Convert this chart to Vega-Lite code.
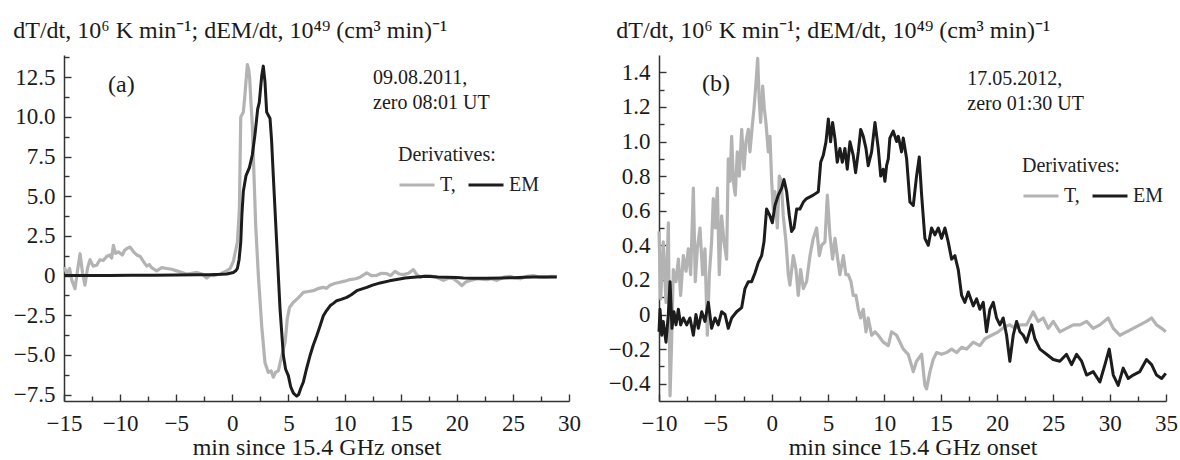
{
  "$schema": "https://vega.github.io/schema/vega-lite/v6.json",
  "padding": {"left": 13, "top": 19, "right": 0, "bottom": 0},
  "background": "white",
  "bounds": "flush",
  "spacing": 90,
  "config": {
    "font": "Times New Roman",
    "view": {"stroke": null},
    "axis": {
      "grid": false,
      "domainColor": "#333333",
      "domainWidth": 1.5,
      "tickColor": "#333333",
      "tickWidth": 1.4,
      "tickSize": 7,
      "labelColor": "#1a1a1a",
      "labelFont": "Times New Roman",
      "labelFontSize": 23,
      "labelFlush": false,
      "labelOverlap": false,
      "labelBound": false,
      "titleFont": "Times New Roman",
      "titleFontSize": 24,
      "titleFontWeight": "normal",
      "titleColor": "#1a1a1a"
    },
    "legend": {
      "orient": "none",
      "direction": "horizontal",
      "padding": 0,
      "titleFont": "Times New Roman",
      "titleFontSize": 20,
      "titleFontWeight": "normal",
      "titleColor": "#222222",
      "titlePadding": 1,
      "labelFont": "Times New Roman",
      "labelFontSize": 20,
      "labelColor": "#222222",
      "symbolType": "stroke",
      "symbolSize": 1225,
      "symbolStrokeWidth": 3,
      "labelOffset": 4,
      "columnPadding": 6
    }
  },
  "datasets": {
    "a": [
      {"t":-14.97,"v":0.54,"s":"T"},{"t":-14.75,"v":0.1,"s":"T"},{"t":-14.5,"v":0.45,"s":"T"},{"t":-14.3,"v":-0.3,"s":"T"},{"t":-14.02,"v":-0.83,"s":"T"},{"t":-13.8,"v":0.3,"s":"T"},{"t":-13.57,"v":1.38,"s":"T"},{"t":-13.35,"v":0.2,"s":"T"},{"t":-13.13,"v":-0.6,"s":"T"},{"t":-12.9,"v":0.5,"s":"T"},{"t":-12.68,"v":1.0,"s":"T"},{"t":-12.4,"v":0.6,"s":"T"},{"t":-12.09,"v":0.65,"s":"T"},{"t":-11.8,"v":1.0,"s":"T"},{"t":-11.5,"v":0.95,"s":"T"},{"t":-11.2,"v":1.2,"s":"T"},{"t":-10.9,"v":1.3,"s":"T"},{"t":-10.75,"v":1.1,"s":"T"},{"t":-10.6,"v":1.9,"s":"T"},{"t":-10.4,"v":1.4,"s":"T"},{"t":-10.16,"v":1.5,"s":"T"},{"t":-9.8,"v":1.3,"s":"T"},{"t":-9.6,"v":1.6,"s":"T"},{"t":-9.41,"v":1.7,"s":"T"},{"t":-9.12,"v":1.8,"s":"T"},{"t":-8.8,"v":1.5,"s":"T"},{"t":-8.52,"v":1.3,"s":"T"},{"t":-8.2,"v":1.2,"s":"T"},{"t":-7.93,"v":0.9,"s":"T"},{"t":-7.63,"v":0.6,"s":"T"},{"t":-7.4,"v":0.7,"s":"T"},{"t":-7.2,"v":0.5,"s":"T"},{"t":-6.74,"v":0.3,"s":"T"},{"t":-6.3,"v":0.5,"s":"T"},{"t":-5.85,"v":0.45,"s":"T"},{"t":-5.4,"v":0.4,"s":"T"},{"t":-4.96,"v":0.3,"s":"T"},{"t":-4.5,"v":0.2,"s":"T"},{"t":-4.06,"v":0.1,"s":"T"},{"t":-3.6,"v":0.15,"s":"T"},{"t":-3.17,"v":0.2,"s":"T"},{"t":-2.7,"v":0.1,"s":"T"},{"t":-2.28,"v":-0.15,"s":"T"},{"t":-1.9,"v":0.05,"s":"T"},{"t":-1.69,"v":0.0,"s":"T"},{"t":-1.1,"v":0.1,"s":"T"},{"t":-0.8,"v":0.2,"s":"T"},{"t":-0.5,"v":0.3,"s":"T"},{"t":-0.2,"v":0.45,"s":"T"},{"t":0.09,"v":0.9,"s":"T"},{"t":0.3,"v":1.6,"s":"T"},{"t":0.45,"v":2.1,"s":"T"},{"t":0.63,"v":4.2,"s":"T"},{"t":0.75,"v":10.0,"s":"T"},{"t":0.98,"v":10.3,"s":"T"},{"t":1.1,"v":11.2,"s":"T"},{"t":1.19,"v":12.0,"s":"T"},{"t":1.34,"v":13.3,"s":"T"},{"t":1.45,"v":13.0,"s":"T"},{"t":1.55,"v":12.4,"s":"T"},{"t":1.65,"v":11.0,"s":"T"},{"t":1.78,"v":9.5,"s":"T"},{"t":1.93,"v":6.3,"s":"T"},{"t":2.08,"v":3.2,"s":"T"},{"t":2.32,"v":0.0,"s":"T"},{"t":2.62,"v":-3.2,"s":"T"},{"t":2.91,"v":-5.5,"s":"T"},{"t":3.21,"v":-6.1,"s":"T"},{"t":3.45,"v":-6.0,"s":"T"},{"t":3.65,"v":-6.4,"s":"T"},{"t":3.85,"v":-6.1,"s":"T"},{"t":4.1,"v":-6.0,"s":"T"},{"t":4.4,"v":-5.05,"s":"T"},{"t":4.7,"v":-4.2,"s":"T"},{"t":4.9,"v":-2.7,"s":"T"},{"t":5.1,"v":-2.0,"s":"T"},{"t":5.44,"v":-1.68,"s":"T"},{"t":5.88,"v":-1.4,"s":"T"},{"t":6.33,"v":-1.06,"s":"T"},{"t":6.8,"v":-1.0,"s":"T"},{"t":7.22,"v":-0.95,"s":"T"},{"t":7.7,"v":-0.8,"s":"T"},{"t":8.11,"v":-0.74,"s":"T"},{"t":8.4,"v":-0.8,"s":"T"},{"t":8.71,"v":-0.6,"s":"T"},{"t":9.1,"v":-0.5,"s":"T"},{"t":9.6,"v":-0.42,"s":"T"},{"t":10.0,"v":-0.35,"s":"T"},{"t":10.49,"v":-0.25,"s":"T"},{"t":11.0,"v":-0.2,"s":"T"},{"t":11.38,"v":-0.1,"s":"T"},{"t":11.98,"v":0.17,"s":"T"},{"t":12.4,"v":0.0,"s":"T"},{"t":12.87,"v":0.02,"s":"T"},{"t":13.3,"v":0.15,"s":"T"},{"t":13.76,"v":0.12,"s":"T"},{"t":14.1,"v":0.0,"s":"T"},{"t":14.5,"v":0.27,"s":"T"},{"t":14.9,"v":0.1,"s":"T"},{"t":15.25,"v":0.06,"s":"T"},{"t":15.7,"v":0.15,"s":"T"},{"t":16.14,"v":0.38,"s":"T"},{"t":16.4,"v":0.1,"s":"T"},{"t":16.73,"v":-0.1,"s":"T"},{"t":17.2,"v":0.0,"s":"T"},{"t":17.62,"v":-0.02,"s":"T"},{"t":18.2,"v":-0.1,"s":"T"},{"t":18.81,"v":-0.3,"s":"T"},{"t":19.3,"v":-0.15,"s":"T"},{"t":19.7,"v":-0.2,"s":"T"},{"t":20.1,"v":-0.4,"s":"T"},{"t":20.45,"v":-0.63,"s":"T"},{"t":20.8,"v":-0.4,"s":"T"},{"t":21.19,"v":-0.3,"s":"T"},{"t":21.9,"v":-0.2,"s":"T"},{"t":22.68,"v":-0.25,"s":"T"},{"t":23.1,"v":-0.2,"s":"T"},{"t":23.57,"v":-0.3,"s":"T"},{"t":24.2,"v":-0.1,"s":"T"},{"t":24.76,"v":-0.04,"s":"T"},{"t":25.2,"v":-0.15,"s":"T"},{"t":25.65,"v":-0.2,"s":"T"},{"t":26.2,"v":-0.05,"s":"T"},{"t":26.83,"v":0.0,"s":"T"},{"t":27.4,"v":-0.1,"s":"T"},{"t":28.0,"v":-0.1,"s":"T"},{"t":28.5,"v":-0.05,"s":"T"},{"t":28.91,"v":-0.06,"s":"T"},
      {"t":-14.97,"v":0.0,"s":"EM"},{"t":-13,"v":0.0,"s":"EM"},{"t":-11,"v":0.0,"s":"EM"},{"t":-9,"v":0.02,"s":"EM"},{"t":-7,"v":0.03,"s":"EM"},{"t":-5,"v":0.04,"s":"EM"},{"t":-3,"v":0.05,"s":"EM"},{"t":-2,"v":0.06,"s":"EM"},{"t":-1,"v":0.08,"s":"EM"},{"t":-0.5,"v":0.1,"s":"EM"},{"t":0.09,"v":0.2,"s":"EM"},{"t":0.3,"v":0.3,"s":"EM"},{"t":0.45,"v":0.45,"s":"EM"},{"t":0.6,"v":1.0,"s":"EM"},{"t":0.75,"v":2.1,"s":"EM"},{"t":0.85,"v":3.8,"s":"EM"},{"t":0.98,"v":5.3,"s":"EM"},{"t":1.22,"v":6.3,"s":"EM"},{"t":1.52,"v":6.8,"s":"EM"},{"t":1.78,"v":7.6,"s":"EM"},{"t":2.02,"v":8.9,"s":"EM"},{"t":2.26,"v":10.5,"s":"EM"},{"t":2.4,"v":10.9,"s":"EM"},{"t":2.62,"v":12.6,"s":"EM"},{"t":2.76,"v":13.2,"s":"EM"},{"t":2.91,"v":12.2,"s":"EM"},{"t":3.06,"v":10.3,"s":"EM"},{"t":3.36,"v":9.9,"s":"EM"},{"t":3.5,"v":8.5,"s":"EM"},{"t":3.65,"v":6.3,"s":"EM"},{"t":3.95,"v":2.1,"s":"EM"},{"t":4.25,"v":-2.1,"s":"EM"},{"t":4.55,"v":-5.05,"s":"EM"},{"t":4.75,"v":-5.9,"s":"EM"},{"t":4.99,"v":-6.3,"s":"EM"},{"t":5.2,"v":-7.0,"s":"EM"},{"t":5.44,"v":-7.4,"s":"EM"},{"t":5.74,"v":-7.6,"s":"EM"},{"t":5.9,"v":-7.5,"s":"EM"},{"t":6.1,"v":-7.1,"s":"EM"},{"t":6.33,"v":-6.7,"s":"EM"},{"t":6.6,"v":-5.9,"s":"EM"},{"t":6.92,"v":-5.05,"s":"EM"},{"t":7.2,"v":-4.4,"s":"EM"},{"t":7.52,"v":-3.79,"s":"EM"},{"t":7.8,"v":-3.2,"s":"EM"},{"t":8.11,"v":-2.53,"s":"EM"},{"t":8.4,"v":-2.2,"s":"EM"},{"t":8.71,"v":-1.9,"s":"EM"},{"t":9.0,"v":-1.75,"s":"EM"},{"t":9.3,"v":-1.58,"s":"EM"},{"t":9.7,"v":-1.5,"s":"EM"},{"t":10.2,"v":-1.37,"s":"EM"},{"t":10.6,"v":-1.2,"s":"EM"},{"t":11.09,"v":-0.95,"s":"EM"},{"t":11.5,"v":-0.85,"s":"EM"},{"t":11.98,"v":-0.74,"s":"EM"},{"t":12.5,"v":-0.6,"s":"EM"},{"t":13.17,"v":-0.46,"s":"EM"},{"t":14.0,"v":-0.33,"s":"EM"},{"t":14.65,"v":-0.25,"s":"EM"},{"t":15.4,"v":-0.15,"s":"EM"},{"t":16.14,"v":-0.1,"s":"EM"},{"t":17.0,"v":-0.06,"s":"EM"},{"t":17.62,"v":-0.05,"s":"EM"},{"t":18.3,"v":-0.08,"s":"EM"},{"t":19.11,"v":-0.1,"s":"EM"},{"t":20.0,"v":-0.12,"s":"EM"},{"t":20.6,"v":-0.15,"s":"EM"},{"t":21.5,"v":-0.16,"s":"EM"},{"t":22.68,"v":-0.17,"s":"EM"},{"t":24.0,"v":-0.15,"s":"EM"},{"t":25.05,"v":-0.13,"s":"EM"},{"t":26.0,"v":-0.1,"s":"EM"},{"t":26.83,"v":-0.08,"s":"EM"},{"t":28.0,"v":-0.08,"s":"EM"},{"t":28.91,"v":-0.08,"s":"EM"}
    ],
    "b": [
      {"t":-10.0,"v":0.48,"s":"T"},{"t":-9.85,"v":0.09,"s":"T"},{"t":-9.62,"v":0.42,"s":"T"},{"t":-9.38,"v":0.07,"s":"T"},{"t":-9.17,"v":0.53,"s":"T"},{"t":-9.02,"v":-0.47,"s":"T"},{"t":-8.88,"v":-0.16,"s":"T"},{"t":-8.73,"v":0.26,"s":"T"},{"t":-8.49,"v":0.19,"s":"T"},{"t":-8.28,"v":0.32,"s":"T"},{"t":-8.08,"v":0.11,"s":"T"},{"t":-7.84,"v":0.34,"s":"T"},{"t":-7.6,"v":0.25,"s":"T"},{"t":-7.4,"v":0.38,"s":"T"},{"t":-7.19,"v":0.23,"s":"T"},{"t":-6.95,"v":0.73,"s":"T"},{"t":-6.78,"v":0.19,"s":"T"},{"t":-6.6,"v":0.38,"s":"T"},{"t":-6.36,"v":0.5,"s":"T"},{"t":-6.13,"v":0.23,"s":"T"},{"t":-5.92,"v":0.38,"s":"T"},{"t":-5.71,"v":-0.12,"s":"T"},{"t":-5.53,"v":0.23,"s":"T"},{"t":-5.33,"v":0.42,"s":"T"},{"t":-5.18,"v":0.67,"s":"T"},{"t":-5.0,"v":0.5,"s":"T"},{"t":-4.82,"v":0.73,"s":"T"},{"t":-4.65,"v":0.23,"s":"T"},{"t":-4.44,"v":0.57,"s":"T"},{"t":-4.23,"v":0.42,"s":"T"},{"t":-4.0,"v":0.32,"s":"T"},{"t":-3.85,"v":0.9,"s":"T"},{"t":-3.7,"v":0.77,"s":"T"},{"t":-3.55,"v":1.03,"s":"T"},{"t":-3.4,"v":0.77,"s":"T"},{"t":-3.23,"v":0.69,"s":"T"},{"t":-3.05,"v":0.94,"s":"T"},{"t":-2.87,"v":0.8,"s":"T"},{"t":-2.66,"v":1.07,"s":"T"},{"t":-2.46,"v":0.84,"s":"T"},{"t":-2.28,"v":1.0,"s":"T"},{"t":-2.07,"v":1.07,"s":"T"},{"t":-1.93,"v":0.94,"s":"T"},{"t":-1.72,"v":1.09,"s":"T"},{"t":-1.57,"v":1.19,"s":"T"},{"t":-1.39,"v":1.34,"s":"T"},{"t":-1.24,"v":1.48,"s":"T"},{"t":-1.1,"v":1.23,"s":"T"},{"t":-0.98,"v":1.11,"s":"T"},{"t":-0.8,"v":1.32,"s":"T"},{"t":-0.65,"v":1.19,"s":"T"},{"t":-0.51,"v":1.11,"s":"T"},{"t":-0.3,"v":0.94,"s":"T"},{"t":-0.15,"v":1.03,"s":"T"},{"t":0.0,"v":0.77,"s":"T"},{"t":0.14,"v":0.61,"s":"T"},{"t":0.29,"v":0.71,"s":"T"},{"t":0.5,"v":0.5,"s":"T"},{"t":0.68,"v":0.8,"s":"T"},{"t":0.85,"v":0.77,"s":"T"},{"t":1.03,"v":0.57,"s":"T"},{"t":1.27,"v":0.42,"s":"T"},{"t":1.48,"v":0.23,"s":"T"},{"t":1.62,"v":0.17,"s":"T"},{"t":1.92,"v":0.34,"s":"T"},{"t":2.16,"v":0.26,"s":"T"},{"t":2.36,"v":0.11,"s":"T"},{"t":2.57,"v":0.26,"s":"T"},{"t":2.81,"v":0.15,"s":"T"},{"t":3.1,"v":0.19,"s":"T"},{"t":3.4,"v":0.34,"s":"T"},{"t":3.69,"v":0.44,"s":"T"},{"t":3.99,"v":0.5,"s":"T"},{"t":4.23,"v":0.34,"s":"T"},{"t":4.43,"v":0.4,"s":"T"},{"t":4.73,"v":0.42,"s":"T"},{"t":4.94,"v":0.69,"s":"T"},{"t":5.17,"v":0.46,"s":"T"},{"t":5.41,"v":0.32,"s":"T"},{"t":5.62,"v":0.44,"s":"T"},{"t":5.82,"v":0.34,"s":"T"},{"t":6.06,"v":0.23,"s":"T"},{"t":6.36,"v":0.34,"s":"T"},{"t":6.59,"v":0.23,"s":"T"},{"t":6.8,"v":0.23,"s":"T"},{"t":7.04,"v":0.19,"s":"T"},{"t":7.24,"v":0.11,"s":"T"},{"t":7.48,"v":0.11,"s":"T"},{"t":7.69,"v":0.03,"s":"T"},{"t":7.9,"v":-0.02,"s":"T"},{"t":8.13,"v":0.03,"s":"T"},{"t":8.37,"v":-0.1,"s":"T"},{"t":8.57,"v":-0.02,"s":"T"},{"t":8.87,"v":-0.12,"s":"T"},{"t":9.17,"v":-0.1,"s":"T"},{"t":9.46,"v":-0.12,"s":"T"},{"t":9.91,"v":-0.16,"s":"T"},{"t":10.35,"v":-0.18,"s":"T"},{"t":10.64,"v":-0.1,"s":"T"},{"t":11.09,"v":-0.12,"s":"T"},{"t":11.68,"v":-0.2,"s":"T"},{"t":12.12,"v":-0.23,"s":"T"},{"t":12.57,"v":-0.33,"s":"T"},{"t":12.86,"v":-0.27,"s":"T"},{"t":13.31,"v":-0.23,"s":"T"},{"t":13.6,"v":-0.41,"s":"T"},{"t":13.75,"v":-0.43,"s":"T"},{"t":14.05,"v":-0.33,"s":"T"},{"t":14.34,"v":-0.26,"s":"T"},{"t":14.64,"v":-0.22,"s":"T"},{"t":15.08,"v":-0.23,"s":"T"},{"t":15.52,"v":-0.22,"s":"T"},{"t":15.97,"v":-0.2,"s":"T"},{"t":16.41,"v":-0.22,"s":"T"},{"t":16.86,"v":-0.19,"s":"T"},{"t":17.3,"v":-0.2,"s":"T"},{"t":17.89,"v":-0.16,"s":"T"},{"t":18.48,"v":-0.18,"s":"T"},{"t":18.93,"v":-0.14,"s":"T"},{"t":19.52,"v":-0.12,"s":"T"},{"t":20.11,"v":-0.1,"s":"T"},{"t":20.7,"v":-0.07,"s":"T"},{"t":21.14,"v":-0.06,"s":"T"},{"t":21.59,"v":-0.08,"s":"T"},{"t":22.03,"v":-0.06,"s":"T"},{"t":22.62,"v":-0.06,"s":"T"},{"t":23.21,"v":0.015,"s":"T"},{"t":23.66,"v":-0.04,"s":"T"},{"t":24.1,"v":-0.02,"s":"T"},{"t":24.55,"v":-0.08,"s":"T"},{"t":24.99,"v":-0.04,"s":"T"},{"t":25.58,"v":-0.1,"s":"T"},{"t":26.17,"v":-0.08,"s":"T"},{"t":26.77,"v":-0.06,"s":"T"},{"t":27.36,"v":-0.06,"s":"T"},{"t":27.95,"v":-0.04,"s":"T"},{"t":28.54,"v":-0.08,"s":"T"},{"t":29.13,"v":-0.06,"s":"T"},{"t":29.87,"v":-0.02,"s":"T"},{"t":30.32,"v":-0.08,"s":"T"},{"t":30.91,"v":-0.12,"s":"T"},{"t":31.5,"v":-0.1,"s":"T"},{"t":32.09,"v":-0.08,"s":"T"},{"t":32.68,"v":-0.06,"s":"T"},{"t":33.27,"v":-0.04,"s":"T"},{"t":33.72,"v":-0.02,"s":"T"},{"t":34.16,"v":-0.06,"s":"T"},{"t":34.61,"v":-0.08,"s":"T"},{"t":34.98,"v":-0.1,"s":"T"},
      {"t":-10.0,"v":-0.1,"s":"EM"},{"t":-9.91,"v":0.03,"s":"EM"},{"t":-9.76,"v":-0.12,"s":"EM"},{"t":-9.62,"v":-0.04,"s":"EM"},{"t":-9.38,"v":-0.16,"s":"EM"},{"t":-9.17,"v":0.0,"s":"EM"},{"t":-9.02,"v":0.19,"s":"EM"},{"t":-8.85,"v":-0.08,"s":"EM"},{"t":-8.67,"v":0.016,"s":"EM"},{"t":-8.49,"v":-0.06,"s":"EM"},{"t":-8.28,"v":0.03,"s":"EM"},{"t":-8.08,"v":-0.06,"s":"EM"},{"t":-7.84,"v":-0.02,"s":"EM"},{"t":-7.54,"v":-0.06,"s":"EM"},{"t":-7.25,"v":-0.02,"s":"EM"},{"t":-6.95,"v":-0.12,"s":"EM"},{"t":-6.72,"v":0.0,"s":"EM"},{"t":-6.51,"v":-0.08,"s":"EM"},{"t":-6.21,"v":0.016,"s":"EM"},{"t":-5.92,"v":-0.04,"s":"EM"},{"t":-5.62,"v":0.07,"s":"EM"},{"t":-5.33,"v":-0.08,"s":"EM"},{"t":-5.03,"v":-0.02,"s":"EM"},{"t":-4.74,"v":-0.06,"s":"EM"},{"t":-4.44,"v":0.016,"s":"EM"},{"t":-4.14,"v":0.0,"s":"EM"},{"t":-3.85,"v":-0.08,"s":"EM"},{"t":-3.55,"v":-0.02,"s":"EM"},{"t":-3.11,"v":0.016,"s":"EM"},{"t":-2.66,"v":0.04,"s":"EM"},{"t":-2.37,"v":0.15,"s":"EM"},{"t":-2.07,"v":0.19,"s":"EM"},{"t":-1.78,"v":0.19,"s":"EM"},{"t":-1.48,"v":0.24,"s":"EM"},{"t":-1.19,"v":0.3,"s":"EM"},{"t":-0.89,"v":0.34,"s":"EM"},{"t":-0.68,"v":0.42,"s":"EM"},{"t":-0.45,"v":0.61,"s":"EM"},{"t":-0.15,"v":0.57,"s":"EM"},{"t":0.06,"v":0.53,"s":"EM"},{"t":0.29,"v":0.63,"s":"EM"},{"t":0.59,"v":0.69,"s":"EM"},{"t":0.89,"v":0.73,"s":"EM"},{"t":1.09,"v":0.78,"s":"EM"},{"t":1.33,"v":0.71,"s":"EM"},{"t":1.57,"v":0.57,"s":"EM"},{"t":1.77,"v":0.48,"s":"EM"},{"t":1.98,"v":0.5,"s":"EM"},{"t":2.22,"v":0.61,"s":"EM"},{"t":2.51,"v":0.61,"s":"EM"},{"t":2.81,"v":0.65,"s":"EM"},{"t":3.1,"v":0.67,"s":"EM"},{"t":3.4,"v":0.68,"s":"EM"},{"t":3.69,"v":0.69,"s":"EM"},{"t":4.14,"v":0.71,"s":"EM"},{"t":4.35,"v":0.88,"s":"EM"},{"t":4.58,"v":0.92,"s":"EM"},{"t":4.82,"v":0.998,"s":"EM"},{"t":5.03,"v":1.13,"s":"EM"},{"t":5.23,"v":0.998,"s":"EM"},{"t":5.41,"v":1.11,"s":"EM"},{"t":5.62,"v":1.015,"s":"EM"},{"t":5.82,"v":0.88,"s":"EM"},{"t":6.06,"v":0.96,"s":"EM"},{"t":6.27,"v":0.88,"s":"EM"},{"t":6.5,"v":0.96,"s":"EM"},{"t":6.71,"v":0.84,"s":"EM"},{"t":6.95,"v":0.998,"s":"EM"},{"t":7.24,"v":0.92,"s":"EM"},{"t":7.45,"v":0.82,"s":"EM"},{"t":7.69,"v":0.94,"s":"EM"},{"t":7.9,"v":1.07,"s":"EM"},{"t":8.13,"v":1.03,"s":"EM"},{"t":8.37,"v":0.96,"s":"EM"},{"t":8.57,"v":0.86,"s":"EM"},{"t":8.87,"v":0.94,"s":"EM"},{"t":9.17,"v":1.11,"s":"EM"},{"t":9.46,"v":0.96,"s":"EM"},{"t":9.68,"v":0.8,"s":"EM"},{"t":9.9,"v":0.84,"s":"EM"},{"t":10.05,"v":0.77,"s":"EM"},{"t":10.2,"v":0.86,"s":"EM"},{"t":10.35,"v":0.9,"s":"EM"},{"t":10.49,"v":1.02,"s":"EM"},{"t":10.79,"v":1.06,"s":"EM"},{"t":11.09,"v":1.0,"s":"EM"},{"t":11.24,"v":1.03,"s":"EM"},{"t":11.53,"v":0.94,"s":"EM"},{"t":11.68,"v":1.02,"s":"EM"},{"t":11.98,"v":0.9,"s":"EM"},{"t":12.27,"v":0.65,"s":"EM"},{"t":12.57,"v":0.63,"s":"EM"},{"t":12.86,"v":0.8,"s":"EM"},{"t":13.1,"v":0.91,"s":"EM"},{"t":13.31,"v":0.69,"s":"EM"},{"t":13.6,"v":0.44,"s":"EM"},{"t":13.9,"v":0.4,"s":"EM"},{"t":14.19,"v":0.5,"s":"EM"},{"t":14.49,"v":0.46,"s":"EM"},{"t":14.79,"v":0.5,"s":"EM"},{"t":15.08,"v":0.44,"s":"EM"},{"t":15.38,"v":0.5,"s":"EM"},{"t":15.67,"v":0.42,"s":"EM"},{"t":15.97,"v":0.32,"s":"EM"},{"t":16.26,"v":0.34,"s":"EM"},{"t":16.56,"v":0.26,"s":"EM"},{"t":16.86,"v":0.11,"s":"EM"},{"t":17.15,"v":0.07,"s":"EM"},{"t":17.45,"v":0.13,"s":"EM"},{"t":17.89,"v":0.05,"s":"EM"},{"t":18.19,"v":0.09,"s":"EM"},{"t":18.48,"v":0.03,"s":"EM"},{"t":18.78,"v":0.07,"s":"EM"},{"t":19.07,"v":-0.1,"s":"EM"},{"t":19.37,"v":0.03,"s":"EM"},{"t":19.67,"v":0.07,"s":"EM"},{"t":19.96,"v":-0.02,"s":"EM"},{"t":20.26,"v":-0.06,"s":"EM"},{"t":20.55,"v":-0.02,"s":"EM"},{"t":20.85,"v":-0.12,"s":"EM"},{"t":21.14,"v":-0.27,"s":"EM"},{"t":21.44,"v":-0.12,"s":"EM"},{"t":21.74,"v":-0.04,"s":"EM"},{"t":22.03,"v":-0.1,"s":"EM"},{"t":22.33,"v":-0.12,"s":"EM"},{"t":22.62,"v":-0.16,"s":"EM"},{"t":23.07,"v":-0.06,"s":"EM"},{"t":23.36,"v":-0.14,"s":"EM"},{"t":23.81,"v":-0.2,"s":"EM"},{"t":24.4,"v":-0.23,"s":"EM"},{"t":24.99,"v":-0.26,"s":"EM"},{"t":25.58,"v":-0.27,"s":"EM"},{"t":26.17,"v":-0.23,"s":"EM"},{"t":26.62,"v":-0.29,"s":"EM"},{"t":27.06,"v":-0.23,"s":"EM"},{"t":27.51,"v":-0.27,"s":"EM"},{"t":27.95,"v":-0.35,"s":"EM"},{"t":28.54,"v":-0.33,"s":"EM"},{"t":29.13,"v":-0.39,"s":"EM"},{"t":29.58,"v":-0.29,"s":"EM"},{"t":29.96,"v":-0.2,"s":"EM"},{"t":30.32,"v":-0.35,"s":"EM"},{"t":30.76,"v":-0.41,"s":"EM"},{"t":31.2,"v":-0.31,"s":"EM"},{"t":31.65,"v":-0.37,"s":"EM"},{"t":32.09,"v":-0.35,"s":"EM"},{"t":32.68,"v":-0.33,"s":"EM"},{"t":33.27,"v":-0.26,"s":"EM"},{"t":33.72,"v":-0.29,"s":"EM"},{"t":34.16,"v":-0.35,"s":"EM"},{"t":34.61,"v":-0.37,"s":"EM"},{"t":34.98,"v":-0.34,"s":"EM"}
    ],
    "ann": [
      {"p":"a","k":"L","x":-11.08,"y":12.04,"label":"(a)"},
      {"p":"a","k":"D","x":12.54,"y":12.44,"label":"09.08.2011,"},
      {"p":"a","k":"D","x":12.54,"y":10.86,"label":"zero 08:01 UT"},
      {"p":"b","k":"L","x":-6.18,"y":1.331,"label":"(b)"},
      {"p":"b","k":"D","x":17.36,"y":1.361,"label":"17.05.2012,"},
      {"p":"b","k":"D","x":17.36,"y":1.217,"label":"zero 01:30 UT"}
    ]
  },
  "resolve": {"scale": {"color": "independent"}},
  "hconcat": [
    {
      "width": 505,
      "height": 346,
      "title": {"text": "dT/dt, 10⁶ K min⁻¹; dEM/dt, 10⁴⁹ (cm³ min)⁻¹", "offset": 12, "anchor": "start", "frame": "bounds", "font": "Times New Roman", "fontSize": 24, "fontWeight": "normal", "color": "#1a1a1a"},
      "resolve": {"axis": {"x": "independent", "y": "independent"}},
      "layer": [
        {"data": {"name": "a"}, "transform": [{"filter": "datum.s === 'T'"}],
         "mark": {"type": "line", "strokeWidth": 3.2, "strokeJoin": "round"},
         "encoding": {
           "x": {"field": "t", "type": "quantitative", "title": "min since 15.4 GHz onset",
             "scale": {"domain": [-15, 30], "nice": false, "zero": false},
             "axis": {"orient": "bottom", "ticks": false, "values": [-15,-10,-5,0,5,10,15,20,25,30], "format": "d", "labelPadding": 11, "titlePadding": 0}},
           "y": {"field": "v", "type": "quantitative", "title": null,
             "scale": {"domain": [-7.9, 13.9], "nice": false, "zero": false},
             "axis": {"orient": "left", "ticks": false, "values": [-7.5,-5,-2.5,0,2.5,5,7.5,10,12.5], "format": ".1f", "labelExpr": "datum.value === 0 ? '0' : datum.label", "labelPadding": 9}},
           "color": {"field": "s", "type": "nominal", "scale": {"domain": ["T", "EM"], "range": ["#b3b3b3", "#1c1c1c"]},
             "legend": {"title": "Derivatives:", "legendX": 334, "legendY": 90, "labelExpr": "datum.label === 'T' ? 'T,' : 'EM'"}}}},
        {"data": {"name": "a"}, "transform": [{"filter": "datum.s === 'EM'"}],
         "mark": {"type": "line", "strokeWidth": 3, "strokeJoin": "round"},
         "encoding": {
           "x": {"field": "t", "type": "quantitative", "title": null,
             "axis": {"orient": "bottom", "offset": -7, "tickSize": 7, "labels": false, "domain": false, "values": [-15,-10,-5,0,5,10,15,20,25,30]}},
           "y": {"field": "v", "type": "quantitative", "title": null,
             "axis": {"orient": "left", "offset": -7, "tickSize": 7, "labels": false, "domain": false, "values": [-7.5,-5,-2.5,0,2.5,5,7.5,10,12.5]}},
           "color": {"field": "s", "type": "nominal"}}},
        {"data": {"name": "ann"}, "transform": [{"filter": "datum.p === 'a' && datum.k === 'L'"}],
         "mark": {"type": "text", "align": "left", "baseline": "middle", "fontSize": 24, "font": "Times New Roman", "color": "#1a1a1a"},
         "encoding": {
           "x": {"field": "x", "type": "quantitative", "title": null,
             "axis": {"orient": "bottom", "offset": -5, "tickSize": 5, "labels": false, "domain": false, "values": [-12.5,-7.5,-2.5,2.5,7.5,12.5,17.5,22.5,27.5]}},
           "y": {"field": "y", "type": "quantitative", "title": null,
             "axis": {"orient": "left", "offset": -5, "tickSize": 5, "labels": false, "domain": false, "values": [-6.25,-3.75,-1.25,1.25,3.75,6.25,8.75,11.25,13.75]}},
           "text": {"field": "label"}}},
        {"data": {"name": "ann"}, "transform": [{"filter": "datum.p === 'a' && datum.k === 'D'"}],
         "mark": {"type": "text", "align": "left", "baseline": "middle", "fontSize": 20, "font": "Times New Roman", "color": "#1a1a1a"},
         "encoding": {"x": {"field": "x", "type": "quantitative", "axis": null}, "y": {"field": "y", "type": "quantitative", "axis": null}, "text": {"field": "label"}}}
      ]
    },
    {
      "width": 507,
      "height": 346,
      "title": {"text": "dT/dt, 10⁶ K min⁻¹; dEM/dt, 10⁴⁹ (cm³ min)⁻¹", "offset": 12, "dx": 8, "anchor": "start", "frame": "bounds", "font": "Times New Roman", "fontSize": 24, "fontWeight": "normal", "color": "#1a1a1a"},
      "resolve": {"axis": {"x": "independent", "y": "independent"}},
      "layer": [
        {"data": {"name": "b"}, "transform": [{"filter": "datum.s === 'T'"}],
         "mark": {"type": "line", "strokeWidth": 3.2, "strokeJoin": "round"},
         "encoding": {
           "x": {"field": "t", "type": "quantitative", "title": "min since 15.4 GHz onset",
             "scale": {"domain": [-10, 35], "nice": false, "zero": false},
             "axis": {"orient": "bottom", "ticks": false, "values": [-10,-5,0,5,10,15,20,25,30,35], "format": "d", "labelPadding": 11, "titlePadding": 0}},
           "y": {"field": "v", "type": "quantitative", "title": null,
             "scale": {"domain": [-0.5, 1.5], "nice": false, "zero": false},
             "axis": {"orient": "left", "ticks": false, "values": [-0.4,-0.2,0,0.2,0.4,0.6,0.8,1.0,1.2,1.4], "format": ".1f", "labelExpr": "abs(datum.value) < 0.001 ? '0' : datum.label", "labelPadding": 9}},
           "color": {"field": "s", "type": "nominal", "scale": {"domain": ["T", "EM"], "range": ["#b3b3b3", "#1c1c1c"]},
             "legend": {"title": "Derivatives:", "legendX": 363, "legendY": 101, "labelExpr": "datum.label === 'T' ? 'T,' : 'EM'"}}}},
        {"data": {"name": "b"}, "transform": [{"filter": "datum.s === 'EM'"}],
         "mark": {"type": "line", "strokeWidth": 3, "strokeJoin": "round"},
         "encoding": {
           "x": {"field": "t", "type": "quantitative", "title": null,
             "axis": {"orient": "bottom", "offset": -7, "tickSize": 7, "labels": false, "domain": false, "values": [-10,-5,0,5,10,15,20,25,30,35]}},
           "y": {"field": "v", "type": "quantitative", "title": null,
             "axis": {"orient": "left", "offset": -7, "tickSize": 7, "labels": false, "domain": false, "values": [-0.4,-0.2,0,0.2,0.4,0.6,0.8,1.0,1.2,1.4]}},
           "color": {"field": "s", "type": "nominal"}}},
        {"data": {"name": "ann"}, "transform": [{"filter": "datum.p === 'b' && datum.k === 'L'"}],
         "mark": {"type": "text", "align": "left", "baseline": "middle", "fontSize": 24, "font": "Times New Roman", "color": "#1a1a1a"},
         "encoding": {
           "x": {"field": "x", "type": "quantitative", "title": null,
             "axis": {"orient": "bottom", "offset": -5, "tickSize": 5, "labels": false, "domain": false, "values": [-7.5,-2.5,2.5,7.5,12.5,17.5,22.5,27.5,32.5]}},
           "y": {"field": "y", "type": "quantitative", "title": null,
             "axis": {"orient": "left", "offset": -5, "tickSize": 5, "labels": false, "domain": false, "values": [-0.3,-0.1,0.1,0.3,0.5,0.7,0.9,1.1,1.3]}},
           "text": {"field": "label"}}},
        {"data": {"name": "ann"}, "transform": [{"filter": "datum.p === 'b' && datum.k === 'D'"}],
         "mark": {"type": "text", "align": "left", "baseline": "middle", "fontSize": 20, "font": "Times New Roman", "color": "#1a1a1a"},
         "encoding": {"x": {"field": "x", "type": "quantitative", "axis": null}, "y": {"field": "y", "type": "quantitative", "axis": null}, "text": {"field": "label"}}}
      ]
    }
  ]
}
